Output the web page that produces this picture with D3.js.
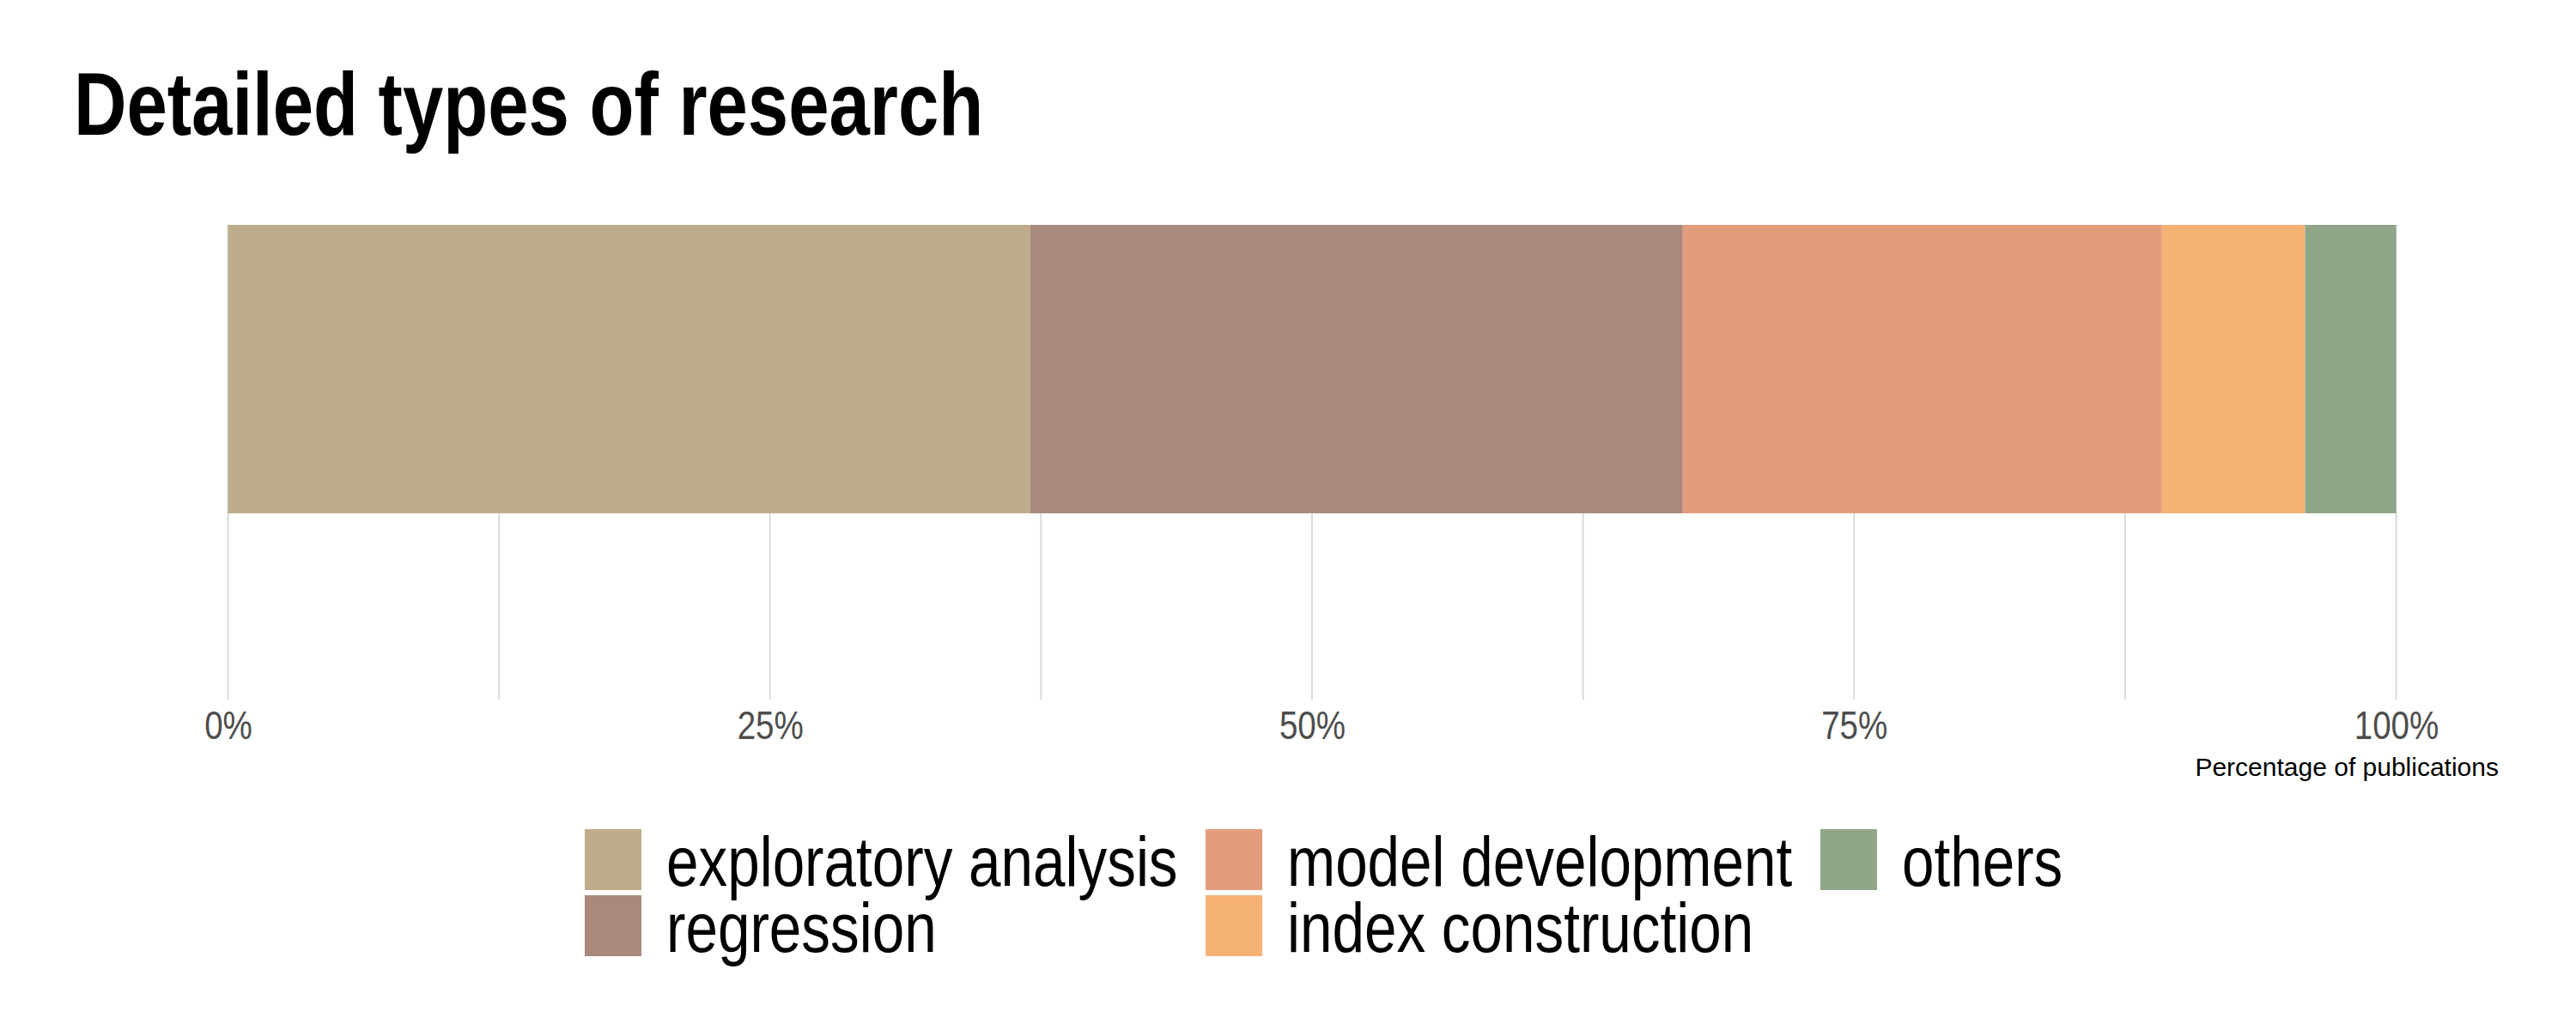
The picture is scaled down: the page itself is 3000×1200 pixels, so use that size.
<!DOCTYPE html>
<html>
<head>
<meta charset="utf-8">
<script src="https://cdn.jsdelivr.net/npm/d3@7"></script>
<style>
  html, body { margin: 0; padding: 0; background: #ffffff; }
  svg { display: block; }
</style>
</head>
<body>
<script>
// ---- data ----
const categories = ["exploratory analysis", "regression", "model development", "index construction", "others"];
const values = [37.0, 30.1, 22.1, 6.6, 4.2];
const colors = ["#BEAC8B", "#A8897B", "#E39D7C", "#F5B274", "#8FA688"];
const tickValues = [0, 25, 50, 75, 100];
const tickLabels = ["0%", "25%", "50%", "75%", "100%"];
const gridValues = [0, 12.5, 25, 37.5, 50, 62.5, 75, 87.5, 100];
const titleText = "Detailed types of research";
const axisTitle = "Percentage of publications";

// ---- layout ----
const W = 3000, H = 1200;
const font = "'Liberation Sans', Arial, sans-serif";
const panelTop = 262, panelBottom = 815;
const barTop = 262, barBottom = 598;

const svg = d3.select("body").append("svg")
  .attr("width", W).attr("height", H)
  .attr("viewBox", `0 0 ${W} ${H}`);

svg.append("rect").attr("width", W).attr("height", H).attr("fill", "#fff");

// condense text horizontally (narrow face emulation)
function condense(sel, factor) {
  sel.each(function () {
    const len = this.getComputedTextLength();
    d3.select(this).attr("textLength", len * factor).attr("lengthAdjust", "spacingAndGlyphs");
  });
}

const x = d3.scaleLinear().domain([0, 100]).range([265.5, 2790.5]);

// gridlines
svg.append("g").selectAll("line").data(gridValues).join("line")
  .attr("x1", d => x(d)).attr("x2", d => x(d))
  .attr("y1", panelTop).attr("y2", panelBottom)
  .attr("stroke", "#d9d9d9").attr("stroke-width", 2);

// stacked bar
const stack = [];
let cum = 0;
values.forEach((v, i) => { stack.push({ cat: categories[i], x0: cum, x1: cum + v, color: colors[i] }); cum += v; });
const total = cum;
const xs = d3.scaleLinear().domain([0, total]).range(x.range());

svg.append("g").selectAll("rect").data(stack).join("rect")
  .attr("x", d => xs(d.x0))
  .attr("width", d => xs(d.x1) - xs(d.x0))
  .attr("y", barTop)
  .attr("height", barBottom - barTop)
  .attr("fill", d => d.color);

// x axis labels
const axis = d3.axisBottom(x)
  .tickValues(tickValues)
  .tickFormat((d, i) => tickLabels[i])
  .tickSize(0)
  .tickPadding(13);
const ag = svg.append("g").attr("transform", `translate(0,${panelBottom})`).call(axis);
ag.select(".domain").remove();
ag.selectAll("text")
  .attr("font-family", font)
  .attr("font-size", 47)
  .attr("fill", "#4d4d4d")
  .call(condense, 0.82);

// axis title
svg.append("text")
  .attr("x", 2910).attr("y", 904)
  .attr("text-anchor", "end")
  .attr("font-family", font)
  .attr("font-size", 30)
  .attr("fill", "#000")
  .text(axisTitle);

// title
svg.append("text")
  .attr("x", 86).attr("y", 157)
  .attr("font-family", font)
  .attr("font-weight", "bold")
  .attr("font-size", 103)
  .attr("fill", "#000")
  .text(titleText)
  .call(condense, 0.826);

// legend
const colX = [681, 1404, 2120];
const rowY = [966, 1043];
const keyW = 66, keyH = 71;
const legendItems = categories.map((c, i) => ({
  label: c, color: colors[i], col: Math.floor(i / 2), row: i % 2
}));
const lg = svg.append("g").selectAll("g").data(legendItems).join("g")
  .attr("transform", d => `translate(${colX[d.col]},${rowY[d.row]})`);
lg.append("rect")
  .attr("width", keyW).attr("height", keyH)
  .attr("fill", d => d.color);
lg.append("text")
  .attr("x", keyW + 29)
  .attr("y", 66)
  .attr("font-family", font)
  .attr("font-size", 81)
  .attr("fill", "#000")
  .text(d => d.label)
  .call(condense, 0.832);
</script>
</body>
</html>
